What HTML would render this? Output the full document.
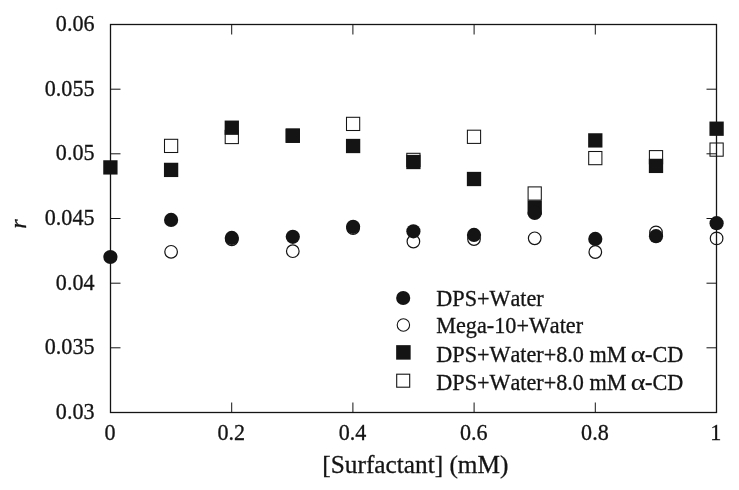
<!DOCTYPE html>
<html><head><meta charset="utf-8"><title>Chart</title>
<style>
html,body{margin:0;padding:0;background:#fff;}
svg{display:block;}
text{font-family:"Liberation Serif","Times New Roman",serif;fill:#141414;font-kerning:none;stroke:#141414;stroke-width:0.3px;}
.tk{font-size:22.1px;}
.lg{font-size:22.2px;}
.ax{font-size:25.3px;}
</style></head><body>
<svg width="739" height="490" viewBox="0 0 739 490">
<rect x="0" y="0" width="739" height="490" fill="#ffffff"/>

<rect x="110.5" y="24.5" width="606.0" height="388.0" fill="none" stroke="#141414" stroke-width="1.3"/>
<line x1="110.5" y1="89.2" x2="120.5" y2="89.2" stroke="#141414" stroke-width="1"/>
<line x1="716.5" y1="89.2" x2="706.5" y2="89.2" stroke="#141414" stroke-width="1"/>
<line x1="110.5" y1="153.8" x2="120.5" y2="153.8" stroke="#141414" stroke-width="1"/>
<line x1="716.5" y1="153.8" x2="706.5" y2="153.8" stroke="#141414" stroke-width="1"/>
<line x1="110.5" y1="218.5" x2="120.5" y2="218.5" stroke="#141414" stroke-width="1"/>
<line x1="716.5" y1="218.5" x2="706.5" y2="218.5" stroke="#141414" stroke-width="1"/>
<line x1="110.5" y1="283.2" x2="120.5" y2="283.2" stroke="#141414" stroke-width="1"/>
<line x1="716.5" y1="283.2" x2="706.5" y2="283.2" stroke="#141414" stroke-width="1"/>
<line x1="110.5" y1="347.8" x2="120.5" y2="347.8" stroke="#141414" stroke-width="1"/>
<line x1="716.5" y1="347.8" x2="706.5" y2="347.8" stroke="#141414" stroke-width="1"/>
<line x1="231.7" y1="24.5" x2="231.7" y2="34.5" stroke="#141414" stroke-width="1"/>
<line x1="231.7" y1="412.5" x2="231.7" y2="402.5" stroke="#141414" stroke-width="1"/>
<line x1="352.9" y1="24.5" x2="352.9" y2="34.5" stroke="#141414" stroke-width="1"/>
<line x1="352.9" y1="412.5" x2="352.9" y2="402.5" stroke="#141414" stroke-width="1"/>
<line x1="474.1" y1="24.5" x2="474.1" y2="34.5" stroke="#141414" stroke-width="1"/>
<line x1="474.1" y1="412.5" x2="474.1" y2="402.5" stroke="#141414" stroke-width="1"/>
<line x1="595.3" y1="24.5" x2="595.3" y2="34.5" stroke="#141414" stroke-width="1"/>
<line x1="595.3" y1="412.5" x2="595.3" y2="402.5" stroke="#141414" stroke-width="1"/>
<text class="tk" x="94.5" y="30.9" text-anchor="end">0.06</text>
<text class="tk" x="94.5" y="95.6" text-anchor="end">0.055</text>
<text class="tk" x="94.5" y="160.2" text-anchor="end">0.05</text>
<text class="tk" x="94.5" y="224.9" text-anchor="end">0.045</text>
<text class="tk" x="94.5" y="289.6" text-anchor="end">0.04</text>
<text class="tk" x="94.5" y="354.2" text-anchor="end">0.035</text>
<text class="tk" x="94.5" y="418.9" text-anchor="end">0.03</text>
<text class="tk" x="110.1" y="440.2" text-anchor="middle">0</text>
<text class="tk" x="231.3" y="440.2" text-anchor="middle">0.2</text>
<text class="tk" x="352.5" y="440.2" text-anchor="middle">0.4</text>
<text class="tk" x="473.7" y="440.2" text-anchor="middle">0.6</text>
<text class="tk" x="594.9" y="440.2" text-anchor="middle">0.8</text>
<text class="tk" x="715.7" y="440.2" text-anchor="middle">1</text>
<text class="ax" x="415.4" y="472.6" text-anchor="middle">[Surfactant] (mM)</text>
<text font-size="24" font-style="italic" transform="translate(26,228.8) rotate(-90)" x="0" y="0">r</text>
<rect x="164.5" y="139.3" width="13.2" height="13.2" fill="none" stroke="#141414" stroke-width="1.05"/>
<rect x="225.2" y="130.4" width="13.2" height="13.2" fill="none" stroke="#141414" stroke-width="1.05"/>
<rect x="286.2" y="129.1" width="13.2" height="13.2" fill="none" stroke="#141414" stroke-width="1.05"/>
<rect x="346.5" y="117.3" width="13.2" height="13.2" fill="none" stroke="#141414" stroke-width="1.05"/>
<rect x="406.8" y="153.3" width="13.2" height="13.2" fill="none" stroke="#141414" stroke-width="1.05"/>
<rect x="467.4" y="130.2" width="13.2" height="13.2" fill="none" stroke="#141414" stroke-width="1.05"/>
<rect x="528.1" y="186.9" width="13.2" height="13.2" fill="none" stroke="#141414" stroke-width="1.05"/>
<rect x="588.7" y="151.5" width="13.2" height="13.2" fill="none" stroke="#141414" stroke-width="1.05"/>
<rect x="649.4" y="150.6" width="13.2" height="13.2" fill="none" stroke="#141414" stroke-width="1.05"/>
<rect x="710.0" y="143.0" width="13.2" height="13.2" fill="none" stroke="#141414" stroke-width="1.05"/>
<circle cx="171.1" cy="251.8" r="6.3" fill="none" stroke="#141414" stroke-width="1.2"/>
<circle cx="231.8" cy="239.3" r="6.3" fill="none" stroke="#141414" stroke-width="1.2"/>
<circle cx="292.8" cy="251.2" r="6.3" fill="none" stroke="#141414" stroke-width="1.2"/>
<circle cx="353.1" cy="228.0" r="6.3" fill="none" stroke="#141414" stroke-width="1.2"/>
<circle cx="413.4" cy="241.5" r="6.3" fill="none" stroke="#141414" stroke-width="1.2"/>
<circle cx="474.0" cy="239.0" r="6.3" fill="none" stroke="#141414" stroke-width="1.2"/>
<circle cx="534.7" cy="238.3" r="6.3" fill="none" stroke="#141414" stroke-width="1.2"/>
<circle cx="595.3" cy="252.0" r="6.3" fill="none" stroke="#141414" stroke-width="1.2"/>
<circle cx="656.0" cy="232.4" r="6.3" fill="none" stroke="#141414" stroke-width="1.2"/>
<circle cx="716.6" cy="238.4" r="6.3" fill="none" stroke="#141414" stroke-width="1.2"/>
<rect x="103.25" y="160.25" width="14.3" height="14.3" fill="#141414"/>
<rect x="163.95" y="162.75" width="14.3" height="14.3" fill="#141414"/>
<rect x="224.65" y="120.55" width="14.3" height="14.3" fill="#141414"/>
<rect x="285.65" y="128.55" width="14.3" height="14.3" fill="#141414"/>
<rect x="345.95" y="138.85" width="14.3" height="14.3" fill="#141414"/>
<rect x="406.25" y="154.85" width="14.3" height="14.3" fill="#141414"/>
<rect x="466.85" y="171.85" width="14.3" height="14.3" fill="#141414"/>
<rect x="527.55" y="200.45" width="14.3" height="14.3" fill="#141414"/>
<rect x="588.15" y="133.25" width="14.3" height="14.3" fill="#141414"/>
<rect x="648.85" y="158.75" width="14.3" height="14.3" fill="#141414"/>
<rect x="709.45" y="121.55" width="14.3" height="14.3" fill="#141414"/>
<circle cx="110.4" cy="257.0" r="7.1" fill="#141414"/>
<circle cx="171.1" cy="219.9" r="7.1" fill="#141414"/>
<circle cx="231.8" cy="237.9" r="7.1" fill="#141414"/>
<circle cx="292.8" cy="236.8" r="7.1" fill="#141414"/>
<circle cx="353.1" cy="226.8" r="7.1" fill="#141414"/>
<circle cx="413.4" cy="231.3" r="7.1" fill="#141414"/>
<circle cx="474.0" cy="234.9" r="7.1" fill="#141414"/>
<circle cx="534.7" cy="212.9" r="7.1" fill="#141414"/>
<circle cx="595.3" cy="238.9" r="7.1" fill="#141414"/>
<circle cx="656.0" cy="236.2" r="7.1" fill="#141414"/>
<circle cx="716.6" cy="223.2" r="7.1" fill="#141414"/>
<circle cx="403.2" cy="298.0" r="7.05" fill="#141414"/>
<circle cx="403.4" cy="325.0" r="6.2" fill="none" stroke="#141414" stroke-width="1.1"/>
<rect x="396.15" y="345.15" width="14.5" height="14.5" fill="#141414"/>
<rect x="396.70" y="374.20" width="13" height="13" fill="none" stroke="#141414" stroke-width="1.1"/>
<text class="lg" x="436.3" y="305.6">DPS+Water</text>
<text class="lg" x="436.3" y="332.8">Mega-10+Water</text>
<text class="lg" x="436.3" y="361.8">DPS+Water+8.0 mM <tspan x="630.8" font-size="23.5" style="stroke-width:0.15px" textLength="14.7" lengthAdjust="spacingAndGlyphs">α</tspan><tspan x="645.0">-CD</tspan></text>
<text class="lg" x="436.3" y="389.6">DPS+Water+8.0 mM <tspan x="630.8" font-size="23.5" style="stroke-width:0.15px" textLength="14.7" lengthAdjust="spacingAndGlyphs">α</tspan><tspan x="645.0">-CD</tspan></text>
</svg></body></html>
